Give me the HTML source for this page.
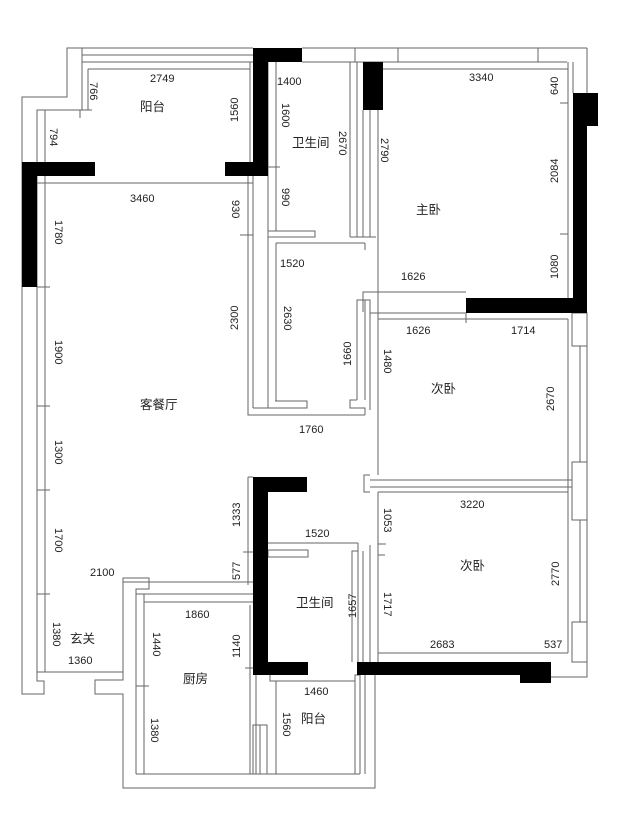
<!DOCTYPE html>
<html><head><meta charset="utf-8"><style>
html,body{margin:0;padding:0;background:#fff}
svg{display:block}
text{font-family:"Liberation Sans","Noto Sans CJK SC",sans-serif;font-size:11px;fill:#222}
.c{font-size:12.5px}
</style></head><body>
<svg width="624" height="818" viewBox="0 0 624 818" xmlns="http://www.w3.org/2000/svg">
<g fill="none" stroke="#666" stroke-width="1">
<!-- top left balcony outer -->
<polyline points="253,48 67,48 67,97 22,97 22,694 44,694 44,681 37,681 37,672 123,672"/>
<polyline points="82,48 82,110 37,110 37,672"/>
<line x1="45" y1="110" x2="45" y2="672"/>
<line x1="82" y1="55" x2="253" y2="55"/>
<line x1="82" y1="62" x2="253" y2="62"/>
<line x1="88" y1="69" x2="250" y2="69"/>
<line x1="88" y1="69" x2="88" y2="110"/>
<line x1="250" y1="62" x2="250" y2="162"/>
<line x1="37" y1="183" x2="253" y2="183"/>
<line x1="45" y1="176" x2="45" y2="183"/>
<!-- living right wall -->
<line x1="248" y1="176" x2="248" y2="408"/>
<line x1="253" y1="176" x2="253" y2="408"/>
<polyline points="248,408 248,415 365,415"/>
<polyline points="253,408 307,408 307,401 275,401"/>
<!-- top bath -->
<line x1="268" y1="62" x2="268" y2="231"/>
<line x1="276" y1="62" x2="276" y2="231"/>
<rect x="268" y="231" width="47" height="6"/>
<line x1="268" y1="237" x2="268" y2="408"/>
<line x1="276" y1="243" x2="276" y2="401"/>
<line x1="276" y1="243" x2="365" y2="243"/>
<line x1="365" y1="243" x2="365" y2="250"/>
<line x1="302" y1="62" x2="357" y2="62"/>
<line x1="350" y1="62" x2="350" y2="237"/>
<line x1="357" y1="62" x2="357" y2="237"/>
<line x1="363" y1="110" x2="363" y2="237"/>
<line x1="370" y1="110" x2="370" y2="237"/>
<line x1="350" y1="237" x2="376" y2="237"/>
<line x1="378" y1="110" x2="378" y2="475"/>
<!-- top windows -->
<line x1="302" y1="48" x2="587" y2="48"/>
<line x1="302" y1="62" x2="567" y2="62"/>
<line x1="355" y1="48" x2="355" y2="62"/>
<line x1="398" y1="48" x2="398" y2="62"/>
<line x1="538" y1="48" x2="538" y2="62"/>
<line x1="587" y1="48" x2="587" y2="93"/>
<line x1="568" y1="62" x2="568" y2="298"/>
<line x1="573" y1="62" x2="573" y2="93"/>
<line x1="378" y1="69" x2="568" y2="69"/>
<!-- master bottom / bedroom1 -->
<polyline points="363,312 363,292 466,292"/>
<polyline points="357,400 357,300 370,300 370,410"/>
<line x1="370" y1="313" x2="466" y2="313"/>
<line x1="370" y1="313" x2="370" y2="315"/>
<line x1="378" y1="319" x2="568" y2="319"/>
<line x1="568" y1="319" x2="568" y2="653"/>
<polyline points="357,400 350,400 350,408 365,408 365,415"/>
<line x1="365" y1="300" x2="365" y2="400"/>
<!-- right windows -->
<rect x="572" y="313" width="15" height="33"/>
<line x1="580" y1="346" x2="580" y2="462"/>
<line x1="587" y1="346" x2="587" y2="462"/>
<rect x="572" y="462" width="15" height="58"/>
<line x1="580" y1="520" x2="580" y2="622"/>
<line x1="587" y1="520" x2="587" y2="622"/>
<rect x="572" y="622" width="15" height="40"/>
<polyline points="587,662 587,677 551,677"/>
<!-- divider between bedrooms -->
<polyline points="370,475 364,475 364,492 370,492"/>
<line x1="370" y1="480" x2="572" y2="480"/>
<line x1="370" y1="487" x2="572" y2="487"/>
<line x1="378" y1="492" x2="568" y2="492"/>
<line x1="378" y1="492" x2="378" y2="662"/>
<line x1="370" y1="545" x2="370" y2="662"/>
<line x1="378" y1="653" x2="568" y2="653"/>
<line x1="572" y1="653" x2="572" y2="662"/>
<!-- lower bath -->
<line x1="268" y1="543" x2="358" y2="543"/>
<rect x="268" y="550" width="40" height="7"/>
<polyline points="358,543 358,551 352,551 352,662"/>
<polyline points="358,551 358,662"/>
<line x1="363" y1="551" x2="363" y2="662"/>
<line x1="378" y1="555" x2="385" y2="555"/>
<!-- kitchen -->
<polyline points="123,672 123,680 95,680 95,694 123,694 123,788 375,788 375,675"/>
<polyline points="123,672 123,578 149,578 149,589 136,589 136,774"/>
<line x1="144" y1="594" x2="144" y2="774"/>
<line x1="136" y1="594" x2="253" y2="594"/>
<line x1="144" y1="602" x2="253" y2="602"/>
<line x1="123" y1="582" x2="253" y2="582"/>
<line x1="123" y1="578" x2="123" y2="578"/>
<line x1="136" y1="774" x2="360" y2="774"/>
<line x1="250" y1="605" x2="250" y2="774"/>
<line x1="256" y1="675" x2="256" y2="774"/>
<rect x="253" y="725" width="14" height="49"/>
<line x1="260" y1="725" x2="260" y2="774"/>
<polyline points="270,675 270,681 276,681 276,774"/>
<line x1="276" y1="681" x2="355" y2="681"/>
<polyline points="355,774 355,675 360,675"/>
<line x1="360" y1="675" x2="360" y2="774"/>
<line x1="365" y1="675" x2="365" y2="774"/>
<line x1="355" y1="675" x2="355" y2="681"/>
<line x1="253" y1="477" x2="248" y2="477"/>
<line x1="248" y1="477" x2="248" y2="585"/>
<line x1="123" y1="578" x2="123" y2="582"/>
<!-- ticks -->
<line x1="37" y1="287" x2="50" y2="287"/>
<line x1="37" y1="406" x2="50" y2="406"/>
<line x1="37" y1="490" x2="50" y2="490"/>
<line x1="37" y1="594" x2="50" y2="594"/>
<line x1="82" y1="110" x2="92" y2="110"/>
<line x1="80" y1="118" x2="80" y2="110"/>
<line x1="240" y1="235" x2="253" y2="235"/>
<line x1="268" y1="167" x2="280" y2="167"/>
<line x1="560" y1="103" x2="568" y2="103"/>
<line x1="560" y1="234" x2="568" y2="234"/>
<line x1="466" y1="313" x2="466" y2="323"/>
<line x1="378" y1="544" x2="386" y2="544"/>
<line x1="243" y1="552" x2="253" y2="552"/>
<line x1="245" y1="668" x2="253" y2="668"/>
<line x1="136" y1="686" x2="149" y2="686"/>
</g>
<g fill="#000">
<rect x="22" y="162" width="15" height="125"/>
<rect x="22" y="162" width="73" height="14"/>
<rect x="225" y="162" width="43" height="14"/>
<rect x="253" y="48" width="15" height="128"/>
<rect x="253" y="48" width="49" height="14"/>
<rect x="363" y="62" width="20" height="48"/>
<rect x="573" y="93" width="14" height="220"/>
<rect x="573" y="93" width="25" height="33"/>
<rect x="466" y="298" width="121" height="15"/>
<rect x="253" y="477" width="15" height="198"/>
<rect x="253" y="477" width="54" height="15"/>
<rect x="253" y="662" width="55" height="13"/>
<rect x="357" y="662" width="194" height="13"/>
<rect x="520" y="675" width="31" height="8"/>
</g>
<g>
<text x="150" y="82">2749</text>
<text x="140" y="111" class="c">阳台</text>
<text x="130" y="202">3460</text>
<text x="277" y="85">1400</text>
<text x="292" y="147" class="c">卫生间</text>
<text x="469" y="81">3340</text>
<text x="416" y="214" class="c">主卧</text>
<text x="280" y="267">1520</text>
<text x="401" y="280">1626</text>
<text x="406" y="334">1626</text>
<text x="511" y="334">1714</text>
<text x="431" y="393" class="c">次卧</text>
<text x="140" y="409" class="c">客餐厅</text>
<text x="299" y="433">1760</text>
<text x="460" y="508">3220</text>
<text x="460" y="570" class="c">次卧</text>
<text x="305" y="537">1520</text>
<text x="296" y="607" class="c">卫生间</text>
<text x="90" y="576">2100</text>
<text x="185" y="618">1860</text>
<text x="183" y="683" class="c">厨房</text>
<text x="304" y="695">1460</text>
<text x="301" y="723" class="c">阳台</text>
<text x="70" y="643" class="c">玄关</text>
<text x="68" y="664">1360</text>
<text x="430" y="648">2683</text>
<text x="544" y="648">537</text>
</g>
<g>
<text transform="translate(90,82) rotate(90)">766</text>
<text transform="translate(50,128) rotate(90)">794</text>
<text transform="translate(55,220) rotate(90)">1780</text>
<text transform="translate(55,340) rotate(90)">1900</text>
<text transform="translate(55,440) rotate(90)">1300</text>
<text transform="translate(55,528) rotate(90)">1700</text>
<text transform="translate(53,622) rotate(90)">1380</text>
<text transform="translate(238,122) rotate(-90)">1560</text>
<text transform="translate(232,200) rotate(90)">930</text>
<text transform="translate(238,330) rotate(-90)">2300</text>
<text transform="translate(282,103) rotate(90)">1600</text>
<text transform="translate(282,188) rotate(90)">990</text>
<text transform="translate(339,131) rotate(90)">2670</text>
<text transform="translate(381,138) rotate(90)">2790</text>
<text transform="translate(284,306) rotate(90)">2630</text>
<text transform="translate(351,366) rotate(-90)">1660</text>
<text transform="translate(384,349) rotate(90)">1480</text>
<text transform="translate(558,95) rotate(-90)">640</text>
<text transform="translate(558,183) rotate(-90)">2084</text>
<text transform="translate(558,279) rotate(-90)">1080</text>
<text transform="translate(554,411) rotate(-90)">2670</text>
<text transform="translate(559,586) rotate(-90)">2770</text>
<text transform="translate(384,508) rotate(90)">1053</text>
<text transform="translate(384,592) rotate(90)">1717</text>
<text transform="translate(356,618) rotate(-90)">1657</text>
<text transform="translate(240,527) rotate(-90)">1333</text>
<text transform="translate(240,580) rotate(-90)">577</text>
<text transform="translate(240,658) rotate(-90)">1140</text>
<text transform="translate(153,632) rotate(90)">1440</text>
<text transform="translate(151,718) rotate(90)">1380</text>
<text transform="translate(283,712) rotate(90)">1560</text>
</g>
</svg>
</body></html>
